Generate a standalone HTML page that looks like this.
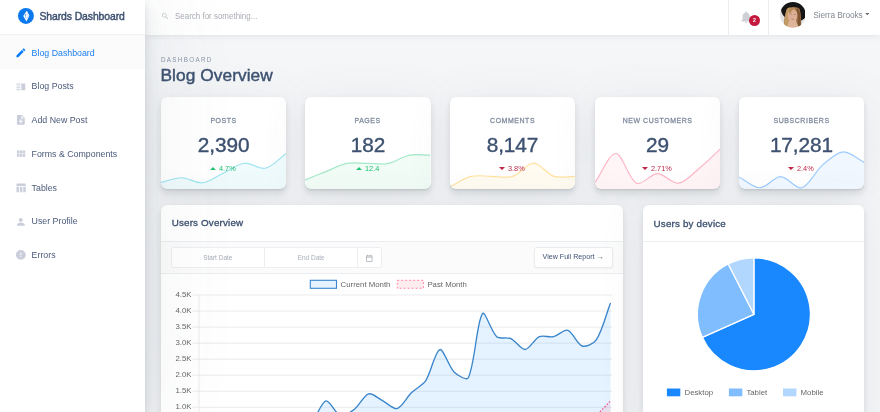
<!DOCTYPE html>
<html><head><meta charset="utf-8"><title>Shards Dashboard</title>
<style>
*{box-sizing:border-box;margin:0;padding:0}
html,body{width:880px;height:412px;overflow:hidden}
body{-webkit-font-smoothing:antialiased;background:#f5f6f8;font-family:"Liberation Sans",sans-serif;position:relative;color:#3d5170}
.abs{position:absolute}
.sidebar{position:absolute;left:0;top:0;width:145px;height:412px;background:#fff;z-index:5;
 box-shadow:0 1.3px 96px rgba(90,97,105,.1),0 2.6px 5.3px rgba(90,97,105,.12),0 9.6px 14.4px rgba(90,97,105,.1),0 4.5px 22.4px rgba(165,182,201,.1)}
.brand{position:absolute;left:0;top:0;width:145px;height:35px;border-bottom:1px solid #eef0f3}
.brand .logo{position:absolute;left:17.85px;top:8px;width:15.9px;height:15.9px}
.brand .bt{position:absolute;left:39.4px;top:8.9px;font-size:10.4px;line-height:14px;font-weight:400;color:#3d5170;-webkit-text-stroke:.42px #3d5170;white-space:nowrap;letter-spacing:-0.08px;top:10px}
.ni{position:absolute;left:0;width:145px;height:33.75px;color:#4a5a79;font-size:8.8px;white-space:nowrap;letter-spacing:0}
.ni span{position:absolute;left:31.6px;top:11.6px;line-height:12px}
.ni .nic{position:absolute;left:14.9px;top:11.9px;width:11.7px;height:11.7px;fill:#cacedb}
.ni.act{background:#fbfbfb;color:#1a7ff0}
.ni.act .nic{fill:#007bff}
.header{position:absolute;left:145px;top:0;width:735px;height:35.2px;background:#fff;box-shadow:0 1.3px 6.5px rgba(90,97,105,.12);z-index:3}
.card{position:absolute;background:#fff;border-radius:6px;
 box-shadow:0 1.3px 0 rgba(90,97,105,.11),0 2.6px 5.2px rgba(90,97,105,.12),0 6.5px 6.5px rgba(90,97,105,.06),0 4.5px 45px rgba(90,97,105,.1)}
.sc{overflow:hidden;text-align:center}
.sc .spark{position:absolute;left:0;top:0}
.sl{position:absolute;left:0;right:0;top:116.1px;margin-top:-97.4px;font-size:7.6px;line-height:10px;letter-spacing:.62px;color:#7e899c;-webkit-text-stroke:.28px #7e899c;transform:scaleX(.915)}
.sv{position:absolute;left:0;right:0;top:133.2px;margin-top:-97.4px;font-size:20.8px;line-height:24px;color:#3d5170;-webkit-text-stroke:.38px #3d5170;letter-spacing:-0.1px}
.sp{position:absolute;left:0;right:0;top:163.8px;margin-top:-97.4px;font-size:7.8px;line-height:10px}
.sp span{display:inline-block;transform:scaleX(.94);transform-origin:0 50%}
.sp svg{display:inline-block;vertical-align:middle;margin-right:3.1px;position:relative;top:0px}
.sp span{vertical-align:middle}
#w{position:absolute;left:0;top:0;width:880px;height:412px;overflow:hidden;will-change:transform;background:#f5f6f8}
</style></head><body>
<div id="w">

<div class="sidebar">
 <div class="brand">
  <svg class="logo" viewBox="0 0 40 40"><circle cx="20" cy="20" r="20" fill="#0b79ee"/><path d="M22 7 L28.3 19 L21.2 34 L13.2 20.2 Z" fill="#fff"/><path d="M22 7 L23.2 19.6 L21.2 34 L28.3 19 Z" fill="#d8e9fd"/><path d="M18.2 15.5 L20.6 14 L20 21 L21 27.5 L18.8 24 L19.2 19.5 L16.6 18.6 Z" fill="#0b79ee" opacity=".75"/></svg>
  <div class="bt">Shards Dashboard</div>
 </div>
 <div class="ni act" style="top:35.0px"><svg class="nic" viewBox="0 0 24 24"><path d="M3 17.25V21h3.75L17.81 9.94l-3.75-3.75L3 17.25zM20.71 7.04c.39-.39.39-1.02 0-1.41l-2.34-2.34c-.39-.39-1.02-.39-1.41 0l-1.83 1.83 3.75 3.75 1.83-1.83z"/></svg><span>Blog Dashboard</span></div>
<div class="ni" style="top:68.75px"><svg class="nic" viewBox="0 0 24 24"><path d="M3 15h8v-2H3v2zm0 4h8v-2H3v2zm0-8h8V9H3v2zm0-6v2h8V5H3zm10 0h8v14h-8V5z"/></svg><span>Blog Posts</span></div>
<div class="ni" style="top:102.5px"><svg class="nic" viewBox="0 0 24 24"><path d="M14 2H6c-1.1 0-1.99.9-1.99 2L4 20c0 1.1.89 2 1.99 2H18c1.1 0 2-.9 2-2V8l-6-6zm2 14h-3v3h-2v-3H8v-2h3v-3h2v3h3v2zm-3-7V3.5L18.5 9H13z"/></svg><span>Add New Post</span></div>
<div class="ni" style="top:136.25px"><svg class="nic" viewBox="0 0 24 24"><path d="M4 11h5V5H4v6zm0 7h5v-6H4v6zm6 0h5v-6h-5v6zm6 0h5v-6h-5v6zm-6-7h5V5h-5v6zm6-6v6h5V5h-5z"/></svg><span>Forms & Components</span></div>
<div class="ni" style="top:170.0px"><svg class="nic" viewBox="0 0 24 24"><path d="M10 10.02h5V21h-5zM17 21h3c1.1 0 2-.9 2-2v-9h-5v11zm3-18H5c-1.1 0-2 .9-2 2v3h19V5c0-1.1-.9-2-2-2zM3 19c0 1.1.9 2 2 2h3V10H3v9z"/></svg><span>Tables</span></div>
<div class="ni" style="top:203.75px"><svg class="nic" viewBox="0 0 24 24"><path d="M12 12c2.21 0 4-1.79 4-4s-1.79-4-4-4-4 1.79-4 4 1.79 4 4 4zm0 2c-2.67 0-8 1.34-8 4v2h16v-2c0-2.66-5.33-4-8-4z"/></svg><span>User Profile</span></div>
<div class="ni" style="top:237.5px"><svg class="nic" viewBox="0 0 24 24"><path d="M12 2C6.48 2 2 6.48 2 12s4.48 10 10 10 10-4.48 10-10S17.52 2 12 2zm1 15h-2v-2h2v2zm0-4h-2V7h2v6z"/></svg><span>Errors</span></div>

</div>

<div class="header">
 <svg class="abs" style="left:16.2px;top:11.7px;width:8.4px;height:8.4px;fill:#c0c4c9" viewBox="0 0 24 24"><path d="M15.5 14h-.79l-.28-.27C15.41 12.59 16 11.11 16 9.5 16 5.91 13.09 3 9.5 3S3 5.91 3 9.5 5.91 16 9.5 16c1.61 0 3.09-.59 4.23-1.57l.27.28v.79l5 4.99L20.49 19l-4.99-5zm-6 0C7.01 14 5 11.99 5 9.5S7.01 5 9.5 5 14 7.01 14 9.5 11.99 14 9.5 14z"/></svg>
 <div class="abs" style="left:30.4px;top:11.1px;font-size:9px;line-height:11px;color:#a9adb4;white-space:nowrap;transform:scaleX(.885);transform-origin:0 50%">Search for something...</div>
 <div class="abs" style="left:583px;top:0;width:1px;height:35px;background:#eceff2"></div>
 <div class="abs" style="left:623px;top:0;width:1px;height:35px;background:#eceff2"></div>
 <svg class="abs" style="left:594.3px;top:9.9px;width:14.4px;height:14.4px;fill:#cdd1d6" viewBox="0 0 24 24"><path d="M12 22c1.1 0 2-.9 2-2h-4c0 1.1.89 2 2 2zm6-6v-5c0-3.07-1.64-5.64-4.5-6.32V4c0-.83-.67-1.5-1.5-1.5s-1.5.67-1.5 1.5v.68C7.63 5.36 6 7.92 6 11v5l-2 2v1h16v-1l-2-2z"/></svg>
 <div class="abs" style="left:604px;top:15.4px;width:10.9px;height:10.9px;border-radius:6px;background:#c4183c;color:#fff;font-size:5.2px;line-height:10.9px;text-align:center;font-weight:700">2</div>
 <svg class="abs" style="left:634.7px;top:2.4px;width:25.8px;height:25.8px" viewBox="0 0 52 52">
  <defs><clipPath id="av"><circle cx="26" cy="26" r="26"/></clipPath><filter id="bl" x="-10%" y="-10%" width="120%" height="120%"><feGaussianBlur stdDeviation="1.1"/></filter></defs>
  <g clip-path="url(#av)"><g filter="url(#bl)">
   <rect x="-4" y="-4" width="60" height="60" fill="#e4e2e0"/>
   <ellipse cx="28.5" cy="18" rx="26.5" ry="21" transform="rotate(18 28 17)" fill="#141216"/>
   <path d="M13 16 C16 9 36 8 40 15 C43 26 43 40 42 52 L8 52 C8 40 9 26 13 16 Z" fill="#9c7146"/>
   <path d="M12 20 C13 12 19 10 22 12 C18 22 18 38 19 52 L8 52 C8 42 10 30 12 20 Z" fill="#c29a64"/>
   <path d="M36 13 C42 20 42 36 42 52 L35 52 C36 40 37 26 33 14 Z" fill="#7d5535"/>
   <ellipse cx="25.2" cy="27.5" rx="9.8" ry="14" fill="#dcae93"/>
   <path d="M17 18 C19 11 28 9 34 13 C30 13 24 15 20 24 Z" fill="#b58a58"/>
   <path d="M19 36 L32 36 L34 43 L39 54 L13 54 L17 43 Z" fill="#dfb599"/>
   <ellipse cx="22" cy="24" rx="2.4" ry="1" fill="#8a6650" opacity=".7"/>
   <ellipse cx="30" cy="24.6" rx="2.4" ry="1" fill="#8a6650" opacity=".7"/>
   <ellipse cx="25.6" cy="35" rx="3" ry="1.1" fill="#b97f74" opacity=".8"/>
  </g></g></svg>
 <div class="abs" style="left:668.2px;top:9.8px;font-size:8.3px;line-height:11px;color:#838990;white-space:nowrap;letter-spacing:-0.06px">Sierra Brooks</div>
 <svg class="abs" style="left:719.7px;top:12.9px;width:4.8px;height:2.3px" viewBox="0 0 10 5"><polygon points="0,0 10,0 5,5" fill="#6a7078"/></svg>
</div>

<div class="abs" style="left:161px;top:55.6px;font-size:6.3px;line-height:8px;letter-spacing:1.3px;color:#8a96a8;white-space:nowrap">DASHBOARD</div>
<div class="abs" style="left:160.5px;top:65.1px;font-size:17.3px;line-height:20px;color:#3d5170;white-space:nowrap;-webkit-text-stroke:.42px #3d5170;letter-spacing:.07px">Blog Overview</div>


<div class="card sc" style="left:161.0px;top:97.4px;width:125.2px;height:91.29999999999998px">
 <svg class="spark" width="125.2" height="91.29999999999998" viewBox="0 0 125.2 91.29999999999998"><path d="M0.00 85.40 C6.89 83.88 14.00 80.73 20.87 80.80 C27.77 80.87 35.10 86.58 41.73 85.80 C48.87 84.96 55.70 79.14 62.60 75.90 C69.47 72.67 76.34 67.00 83.47 66.20 C90.11 65.45 98.04 72.66 104.33 71.20 C111.82 69.46 118.31 61.35 125.20 56.50 L125.20 93.30 L0 93.30 Z" fill="rgba(0,184,216,0.06)"/><path d="M0.00 85.40 C6.89 83.88 14.00 80.73 20.87 80.80 C27.77 80.87 35.10 86.58 41.73 85.80 C48.87 84.96 55.70 79.14 62.60 75.90 C69.47 72.67 76.34 67.00 83.47 66.20 C90.11 65.45 98.04 72.66 104.33 71.20 C111.82 69.46 118.31 61.35 125.20 56.50" fill="none" stroke="rgb(0,184,216)" stroke-opacity="0.37" stroke-width="1.15"/></svg>
 <div class="sl">POSTS</div>
 <div class="sv">2,390</div>
 <div class="sp" style="color:#1fc173"><svg width="6" height="3.1" viewBox="0 0 6 3.1"><polygon points="0,3.1 3,0 6,3.1" fill="#1fc173"/></svg><span>4.7%</span></div>
</div>
<div class="card sc" style="left:305.4px;top:97.4px;width:125.2px;height:91.29999999999998px">
 <svg class="spark" width="125.2" height="91.29999999999998" viewBox="0 0 125.2 91.29999999999998"><path d="M0.00 82.90 C6.89 80.16 13.98 77.32 20.87 74.60 C27.75 71.88 34.60 67.80 41.73 66.40 C48.37 65.10 55.71 66.40 62.60 66.40 C69.49 66.40 76.83 67.72 83.47 66.40 C90.61 64.98 97.19 59.52 104.33 58.10 C110.97 56.78 118.31 58.10 125.20 58.10 L125.20 93.30 L0 93.30 Z" fill="rgba(23,198,113,0.06)"/><path d="M0.00 82.90 C6.89 80.16 13.98 77.32 20.87 74.60 C27.75 71.88 34.60 67.80 41.73 66.40 C48.37 65.10 55.71 66.40 62.60 66.40 C69.49 66.40 76.83 67.72 83.47 66.40 C90.61 64.98 97.19 59.52 104.33 58.10 C110.97 56.78 118.31 58.10 125.20 58.10" fill="none" stroke="rgb(23,198,113)" stroke-opacity="0.37" stroke-width="1.15"/></svg>
 <div class="sl">PAGES</div>
 <div class="sv">182</div>
 <div class="sp" style="color:#1fc173"><svg width="6" height="3.1" viewBox="0 0 6 3.1"><polygon points="0,3.1 3,0 6,3.1" fill="#1fc173"/></svg><span>12.4</span></div>
</div>
<div class="card sc" style="left:449.9px;top:97.4px;width:125.2px;height:91.29999999999998px">
 <svg class="spark" width="125.2" height="91.29999999999998" viewBox="0 0 125.2 91.29999999999998"><path d="M0.00 89.80 C6.89 86.37 13.60 81.21 20.87 79.40 C27.37 77.78 34.85 79.40 41.73 79.40 C48.62 79.40 56.29 81.40 62.60 79.40 C70.06 77.04 76.58 66.20 83.47 66.20 C90.35 66.20 96.87 77.04 104.33 79.40 C110.64 81.40 118.31 79.40 125.20 79.40 L125.20 93.30 L0 93.30 Z" fill="rgba(255,180,0,0.06)"/><path d="M0.00 89.80 C6.89 86.37 13.60 81.21 20.87 79.40 C27.37 77.78 34.85 79.40 41.73 79.40 C48.62 79.40 56.29 81.40 62.60 79.40 C70.06 77.04 76.58 66.20 83.47 66.20 C90.35 66.20 96.87 77.04 104.33 79.40 C110.64 81.40 118.31 79.40 125.20 79.40" fill="none" stroke="rgb(255,180,0)" stroke-opacity="0.37" stroke-width="1.15"/></svg>
 <div class="sl">COMMENTS</div>
 <div class="sv">8,147</div>
 <div class="sp" style="color:#c0284a"><svg width="6" height="3.1" viewBox="0 0 6 3.1"><polygon points="0,0 6,0 3,3.1" fill="#c0284a"/></svg><span>3.8%</span></div>
</div>
<div class="card sc" style="left:594.8px;top:97.4px;width:125.2px;height:91.29999999999998px">
 <svg class="spark" width="125.2" height="91.29999999999998" viewBox="0 0 125.2 91.29999999999998"><path d="M0.00 85.40 C6.89 75.86 14.04 56.37 20.87 56.50 C27.82 56.63 33.30 82.14 41.73 86.20 C47.07 88.77 55.71 76.60 62.60 76.60 C69.49 76.60 76.97 87.04 83.47 86.20 C90.74 85.26 97.78 76.56 104.33 71.20 C111.55 65.30 118.31 58.40 125.20 52.10 L125.20 93.30 L0 93.30 Z" fill="rgba(255,65,105,0.06)"/><path d="M0.00 85.40 C6.89 75.86 14.04 56.37 20.87 56.50 C27.82 56.63 33.30 82.14 41.73 86.20 C47.07 88.77 55.71 76.60 62.60 76.60 C69.49 76.60 76.97 87.04 83.47 86.20 C90.74 85.26 97.78 76.56 104.33 71.20 C111.55 65.30 118.31 58.40 125.20 52.10" fill="none" stroke="rgb(255,65,105)" stroke-opacity="0.37" stroke-width="1.15"/></svg>
 <div class="sl">NEW CUSTOMERS</div>
 <div class="sv">29</div>
 <div class="sp" style="color:#c0284a"><svg width="6" height="3.1" viewBox="0 0 6 3.1"><polygon points="0,0 6,0 3,3.1" fill="#c0284a"/></svg><span>2.71%</span></div>
</div>
<div class="card sc" style="left:738.8px;top:97.4px;width:125.2px;height:91.29999999999998px">
 <svg class="spark" width="125.2" height="91.29999999999998" viewBox="0 0 125.2 91.29999999999998"><path d="M0.00 79.90 C6.89 83.50 14.00 90.85 20.87 90.80 C27.77 90.75 34.85 79.60 41.73 79.60 C48.62 79.60 56.62 92.45 62.60 90.80 C70.39 88.65 75.82 74.68 83.47 68.10 C89.59 62.83 97.26 55.36 104.33 54.90 C111.03 54.47 118.31 61.94 125.20 65.40 L125.20 93.30 L0 93.30 Z" fill="rgba(0,123,255,0.06)"/><path d="M0.00 79.90 C6.89 83.50 14.00 90.85 20.87 90.80 C27.77 90.75 34.85 79.60 41.73 79.60 C48.62 79.60 56.62 92.45 62.60 90.80 C70.39 88.65 75.82 74.68 83.47 68.10 C89.59 62.83 97.26 55.36 104.33 54.90 C111.03 54.47 118.31 61.94 125.20 65.40" fill="none" stroke="rgb(0,123,255)" stroke-opacity="0.37" stroke-width="1.15"/></svg>
 <div class="sl">SUBSCRIBERS</div>
 <div class="sv">17,281</div>
 <div class="sp" style="color:#c0284a"><svg width="6" height="3.1" viewBox="0 0 6 3.1"><polygon points="0,0 6,0 3,3.1" fill="#c0284a"/></svg><span>2.4%</span></div>
</div>

<div class="card" style="left:161px;top:204.5px;width:462px;height:230px;overflow:hidden">
 <div class="abs" style="left:10.7px;top:12.6px;font-size:9.8px;line-height:12px;color:#3d5170;-webkit-text-stroke:.32px #3d5170;letter-spacing:.18px;white-space:nowrap">Users Overview</div>
 <div class="abs" style="left:0;top:36.4px;width:462px;height:33px;background:#fbfbfb;border-top:1px solid #ebeef1;border-bottom:1px solid #ebeef1"></div>
 <div class="abs" style="left:10px;top:42.8px;width:210.6px;height:20.6px;background:#fff;border:1px solid #eceef1;border-radius:2.5px"></div>
 <div class="abs" style="left:103.2px;top:43.5px;width:1px;height:19.4px;background:#eceef1"></div>
 <div class="abs" style="left:195.9px;top:43.5px;width:1px;height:19.4px;background:#eceef1"></div>
 <div class="abs" style="left:10px;top:48.3px;width:93.6px;text-align:center;font-size:6.5px;line-height:9px;color:#a8aeb8">Start Date</div>
 <div class="abs" style="left:103.4px;top:48.3px;width:93.6px;text-align:center;font-size:6.5px;line-height:9px;color:#a8aeb8">End Date</div>
 <svg class="abs" style="left:204.3px;top:49.6px;width:8.5px;height:8.5px;fill:#a4a9b0" viewBox="0 0 24 24"><path d="M19 4h-1V2h-2v2H8V2H6v2H5c-1.11 0-1.99.9-1.99 2L3 20c0 1.1.89 2 2 2h14c1.1 0 2-.9 2-2V6c0-1.1-.9-2-2-2zm0 16H5V10h14v10zm0-12H5V6h14v2z"/></svg>
 <div class="abs" style="left:372.6px;top:42.9px;width:79px;height:20.2px;background:#fff;border:1px solid #e9ecef;border-radius:3px;text-align:center;font-size:7.1px;line-height:19.6px;color:#3d5170;white-space:nowrap;box-shadow:0 1px 2px rgba(0,0,0,.04)">View Full Report &rarr;</div>
</div>
<svg class="abs" style="left:0;top:0" width="880" height="412" viewBox="0 0 880 412">
<g font-family="Liberation Sans, sans-serif" font-size="7.8" fill="#666"><text x="191.5" y="297.00" text-anchor="end">4.5K</text><text x="191.5" y="313.04" text-anchor="end">4.0K</text><text x="191.5" y="329.08" text-anchor="end">3.5K</text><text x="191.5" y="345.12" text-anchor="end">3.0K</text><text x="191.5" y="361.16" text-anchor="end">2.5K</text><text x="191.5" y="377.20" text-anchor="end">2.0K</text><text x="191.5" y="393.24" text-anchor="end">1.5K</text><text x="191.5" y="409.28" text-anchor="end">1.0K</text><text x="191.5" y="425.32" text-anchor="end">0.5K</text></g>
<line x1="192.3" y1="295.00" x2="612" y2="295.00" stroke="#e4e4e4" stroke-width="0.75"/><line x1="192.3" y1="311.04" x2="612" y2="311.04" stroke="#e4e4e4" stroke-width="0.75"/><line x1="192.3" y1="327.08" x2="612" y2="327.08" stroke="#e4e4e4" stroke-width="0.75"/><line x1="192.3" y1="343.12" x2="612" y2="343.12" stroke="#e4e4e4" stroke-width="0.75"/><line x1="192.3" y1="359.16" x2="612" y2="359.16" stroke="#e4e4e4" stroke-width="0.75"/><line x1="192.3" y1="375.20" x2="612" y2="375.20" stroke="#e4e4e4" stroke-width="0.75"/><line x1="192.3" y1="391.24" x2="612" y2="391.24" stroke="#e4e4e4" stroke-width="0.75"/><line x1="192.3" y1="407.28" x2="612" y2="407.28" stroke="#e4e4e4" stroke-width="0.75"/><line x1="192.3" y1="423.32" x2="612" y2="423.32" stroke="#e4e4e4" stroke-width="0.75"/>
<line x1="199" y1="295.0" x2="199" y2="412" stroke="#e4e4e4" stroke-width="0.75"/>
<path d="M198.00 423.32 C202.27 420.43 208.38 412.92 212.22 413.70 C216.92 414.65 221.46 425.61 226.45 429.09 C230.00 431.58 236.32 433.19 240.67 433.59 C244.86 433.96 250.64 432.33 254.90 431.66 C259.18 430.98 264.86 429.05 269.12 429.09 C273.40 429.14 279.71 433.33 283.34 431.98 C288.25 430.16 292.64 420.51 297.57 418.51 C301.18 417.04 308.62 422.40 311.79 420.43 C317.15 417.11 321.37 401.70 326.02 400.86 C329.91 400.16 335.40 413.88 340.24 415.30 C343.94 416.38 350.84 411.94 354.47 409.20 C359.38 405.50 363.83 395.23 368.69 393.81 C372.37 392.73 378.69 398.67 382.91 400.86 C387.22 403.10 393.44 409.60 397.14 408.56 C401.98 407.20 406.81 397.26 411.36 392.84 C415.34 388.98 422.60 385.51 425.59 380.97 C431.14 372.52 434.99 351.07 439.81 349.54 C443.52 348.36 448.63 366.57 454.03 371.93 C457.17 375.04 466.64 381.08 468.26 377.77 C475.17 363.59 476.44 322.34 482.48 313.61 C484.97 310.01 491.13 331.74 496.71 336.64 C499.67 339.24 507.13 336.91 510.93 338.63 C515.67 340.78 521.03 349.82 525.16 349.54 C529.56 349.24 534.48 338.91 539.38 336.70 C543.02 335.06 549.53 337.62 553.60 336.70 C558.07 335.70 564.21 329.10 567.83 330.29 C572.74 331.90 577.12 344.34 582.05 346.01 C585.65 347.23 593.88 343.54 596.28 339.91 C602.41 330.64 606.23 314.09 610.50 303.02 L610.50 439.36 L198.00 439.36 Z" fill="rgba(0,123,255,0.1)"/>
<path d="M198.00 427.17 C202.27 426.69 208.37 424.43 212.22 425.57 C216.90 426.94 221.82 434.47 226.45 435.51 C230.36 436.39 236.50 433.34 240.67 431.98 C245.04 430.55 250.94 428.48 254.90 426.21 C259.47 423.58 264.72 415.93 269.12 415.62 C273.25 415.33 279.05 421.69 283.34 424.22 C287.58 426.71 293.15 431.93 297.57 432.33 C301.69 432.71 307.51 426.87 311.79 426.82 C316.04 426.77 321.76 432.06 326.02 432.01 C330.30 431.97 336.02 426.40 340.24 426.53 C344.55 426.65 350.06 432.36 354.47 432.85 C358.59 433.31 364.40 430.56 368.69 429.70 C372.94 428.86 378.66 427.12 382.91 427.17 C387.19 427.22 393.30 431.06 397.14 430.02 C401.83 428.75 406.66 421.64 411.36 419.47 C415.20 417.70 421.92 415.58 425.59 416.90 C430.45 418.66 435.38 429.39 439.81 429.74 C443.91 430.06 449.55 419.67 454.03 419.15 C458.08 418.68 463.78 424.90 468.26 426.46 C472.31 427.88 478.20 428.99 482.48 429.09 C486.73 429.20 492.46 427.02 496.71 427.17 C501.00 427.32 506.70 430.23 510.93 430.09 C515.23 429.94 520.88 426.26 525.16 426.21 C529.41 426.15 535.30 430.29 539.38 429.74 C543.84 429.13 549.14 424.02 553.60 422.36 C557.67 420.84 563.55 420.07 567.83 419.15 C572.08 418.24 577.76 416.99 582.05 416.26 C586.30 415.54 592.67 416.29 596.28 414.34 C601.20 411.67 606.23 404.91 610.50 400.86 L610.50 439.36 L198.00 439.36 Z" fill="rgba(255,65,105,0.1)"/>
<path d="M198.00 427.17 C202.27 426.69 208.37 424.43 212.22 425.57 C216.90 426.94 221.82 434.47 226.45 435.51 C230.36 436.39 236.50 433.34 240.67 431.98 C245.04 430.55 250.94 428.48 254.90 426.21 C259.47 423.58 264.72 415.93 269.12 415.62 C273.25 415.33 279.05 421.69 283.34 424.22 C287.58 426.71 293.15 431.93 297.57 432.33 C301.69 432.71 307.51 426.87 311.79 426.82 C316.04 426.77 321.76 432.06 326.02 432.01 C330.30 431.97 336.02 426.40 340.24 426.53 C344.55 426.65 350.06 432.36 354.47 432.85 C358.59 433.31 364.40 430.56 368.69 429.70 C372.94 428.86 378.66 427.12 382.91 427.17 C387.19 427.22 393.30 431.06 397.14 430.02 C401.83 428.75 406.66 421.64 411.36 419.47 C415.20 417.70 421.92 415.58 425.59 416.90 C430.45 418.66 435.38 429.39 439.81 429.74 C443.91 430.06 449.55 419.67 454.03 419.15 C458.08 418.68 463.78 424.90 468.26 426.46 C472.31 427.88 478.20 428.99 482.48 429.09 C486.73 429.20 492.46 427.02 496.71 427.17 C501.00 427.32 506.70 430.23 510.93 430.09 C515.23 429.94 520.88 426.26 525.16 426.21 C529.41 426.15 535.30 430.29 539.38 429.74 C543.84 429.13 549.14 424.02 553.60 422.36 C557.67 420.84 563.55 420.07 567.83 419.15 C572.08 418.24 577.76 416.99 582.05 416.26 C586.30 415.54 592.67 416.29 596.28 414.34 C601.20 411.67 606.23 404.91 610.50 400.86" fill="none" stroke="rgba(235,70,130,.9)" stroke-width="1.2" stroke-dasharray="1.6 1.6"/>
<path d="M198.00 423.32 C202.27 420.43 208.38 412.92 212.22 413.70 C216.92 414.65 221.46 425.61 226.45 429.09 C230.00 431.58 236.32 433.19 240.67 433.59 C244.86 433.96 250.64 432.33 254.90 431.66 C259.18 430.98 264.86 429.05 269.12 429.09 C273.40 429.14 279.71 433.33 283.34 431.98 C288.25 430.16 292.64 420.51 297.57 418.51 C301.18 417.04 308.62 422.40 311.79 420.43 C317.15 417.11 321.37 401.70 326.02 400.86 C329.91 400.16 335.40 413.88 340.24 415.30 C343.94 416.38 350.84 411.94 354.47 409.20 C359.38 405.50 363.83 395.23 368.69 393.81 C372.37 392.73 378.69 398.67 382.91 400.86 C387.22 403.10 393.44 409.60 397.14 408.56 C401.98 407.20 406.81 397.26 411.36 392.84 C415.34 388.98 422.60 385.51 425.59 380.97 C431.14 372.52 434.99 351.07 439.81 349.54 C443.52 348.36 448.63 366.57 454.03 371.93 C457.17 375.04 466.64 381.08 468.26 377.77 C475.17 363.59 476.44 322.34 482.48 313.61 C484.97 310.01 491.13 331.74 496.71 336.64 C499.67 339.24 507.13 336.91 510.93 338.63 C515.67 340.78 521.03 349.82 525.16 349.54 C529.56 349.24 534.48 338.91 539.38 336.70 C543.02 335.06 549.53 337.62 553.60 336.70 C558.07 335.70 564.21 329.10 567.83 330.29 C572.74 331.90 577.12 344.34 582.05 346.01 C585.65 347.23 593.88 343.54 596.28 339.91 C602.41 330.64 606.23 314.09 610.50 303.02" fill="none" stroke="#3a86cc" stroke-width="1.35"/>
<rect x="310.3" y="280.3" width="26.2" height="8" fill="rgba(0,123,255,0.1)" stroke="#3a86cc" stroke-width="1.1"/>
<text x="340.6" y="287.2" font-family="Liberation Sans, sans-serif" font-size="7.8" fill="#666">Current Month</text>
<rect x="397.2" y="280.3" width="26.2" height="8" fill="rgba(255,65,105,0.1)" stroke="rgba(255,65,105,.75)" stroke-width="0.8" stroke-dasharray="2 2"/>
<text x="427.4" y="287.2" font-family="Liberation Sans, sans-serif" font-size="7.8" fill="#666">Past Month</text>
</svg>

<div class="card" style="left:643.2px;top:205px;width:220.8px;height:230px;overflow:hidden">
 <div class="abs" style="left:10.4px;top:12.5px;font-size:9.8px;line-height:12px;color:#3d5170;-webkit-text-stroke:.32px #3d5170;letter-spacing:.18px;white-space:nowrap">Users by device</div>
 <div class="abs" style="left:0;top:36.2px;width:221px;height:1px;background:#ebeef1"></div>
</div>
<svg class="abs" style="left:0;top:0" width="880" height="412" viewBox="0 0 880 412">
<path d="M753.9 314.3 L753.90 257.80 A56.5 56.5 0 1 1 702.33 337.39 Z" fill="rgba(0,123,255,0.9)" stroke="#fff" stroke-width="1.3" stroke-linejoin="round"/><path d="M753.9 314.3 L702.33 337.39 A56.5 56.5 0 0 1 728.25 263.96 Z" fill="rgba(0,123,255,0.5)" stroke="#fff" stroke-width="1.3" stroke-linejoin="round"/><path d="M753.9 314.3 L728.25 263.96 A56.5 56.5 0 0 1 753.90 257.80 Z" fill="rgba(0,123,255,0.3)" stroke="#fff" stroke-width="1.3" stroke-linejoin="round"/>
<rect x="666.9" y="388.5" width="13.4" height="7.8" fill="rgba(0,123,255,0.9)"/>
<rect x="728.9" y="388.5" width="13.4" height="7.8" fill="rgba(0,123,255,0.5)"/>
<rect x="783.0" y="388.5" width="13.4" height="7.8" fill="rgba(0,123,255,0.3)"/>
<g font-family="Liberation Sans, sans-serif" font-size="7.8" fill="#666">
<text x="684.5" y="395.2">Desktop</text><text x="746.4" y="395.2">Tablet</text><text x="800.6" y="395.2">Mobile</text></g>
</svg>

</div>
</body></html>
